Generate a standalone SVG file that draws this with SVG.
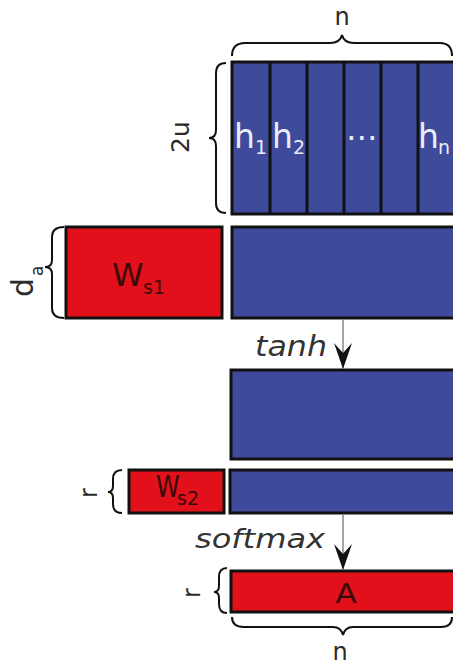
<svg xmlns="http://www.w3.org/2000/svg" width="453" height="669" viewBox="0 0 453 669">
<style>
.blue{fill:#3e4a9a;stroke:#111;stroke-width:3}
.red{fill:#e2101a;stroke:#111;stroke-width:3}
.col{stroke:#111;stroke-width:3}
.brace{fill:none;stroke:#111;stroke-width:2}
.t{font-family:"DejaVu Sans","Liberation Sans",sans-serif;fill:#2a2a2a}
.w{fill:#ececf8}
.dk{fill:#3a0a0a}
.it{font-style:italic;fill:#333}
.conn{stroke:#888;stroke-width:1.5;fill:none}
</style>
<defs>
<marker id="stealth" markerUnits="userSpaceOnUse" markerWidth="26" markerHeight="18" refX="26" refY="9" orient="auto" viewBox="0 0 26 18">
<path d="M26,9 L0,0 L10,9 L0,18 Z" fill="#111"/>
</marker>
</defs>
<rect width="453" height="669" fill="#fff"/>

<g id="H">
<rect class="blue" x="232" y="62" width="240" height="152"/>
<line class="col" x1="270" y1="62" x2="270" y2="214"/>
<line class="col" x1="307" y1="62" x2="307" y2="214"/>
<line class="col" x1="344" y1="62" x2="344" y2="214"/>
<line class="col" x1="381" y1="62" x2="381" y2="214"/>
<line class="col" x1="418" y1="62" x2="418" y2="214"/>
<text class="t w" x="234" y="148" font-size="33">h</text>
<text class="t w" x="255" y="154" font-size="19">1</text>
<text class="t w" x="272" y="148" font-size="33">h</text>
<text class="t w" x="293" y="154" font-size="19">2</text>
<text class="t w" x="362" y="148" font-size="32" text-anchor="middle">⋯</text>
<text class="t w" x="418" y="148" font-size="33">h</text>
<text class="t w" x="438" y="154" font-size="19">n</text>
</g>

<g id="brace-n-top">
<path class="brace" d="M232,56 Q232,43 245,43 L330,43 Q340,43 342,35 Q344,43 354,43 L440,43 Q452,43 452,56"/>
<text class="t" x="342" y="25" font-size="24" text-anchor="middle">n</text>
</g>

<g id="brace-2u">
<path class="brace" d="M226,63 Q216,63 216,73 L216,130 Q216,138 209,138 Q216,138 216,146 L216,203 Q216,213 226,213"/>
<text class="t" transform="translate(189,153) rotate(-90)" font-size="25">2u</text>
</g>

<g id="Ws1">
<rect class="red" x="66" y="227" width="156" height="91"/>
<text class="t dk" x="112" y="286" font-size="32">W</text>
<text class="t dk" x="143" y="294" font-size="19">s1</text>
</g>

<g id="brace-da">
<path class="brace" d="M64,227 Q52,227 52,237 L52,260 Q52,267 45,267 Q52,267 52,274 L52,308 Q52,318 64,318"/>
<text class="t" transform="translate(33,297) rotate(-90)" font-size="30">d</text>
<text class="t" transform="translate(43,276) rotate(-90)" font-size="17">a</text>
</g>

<g id="M1">
<rect class="blue" x="232" y="227" width="240" height="91"/>
</g>

<g id="M2">
<rect class="blue" x="231" y="370" width="240" height="89"/>
</g>

<g id="Ws2">
<rect class="red" x="129" y="470" width="95" height="43"/>
<text class="t dk" transform="translate(156,497) scale(0.8,1)" font-size="30">W</text>
<text class="t dk" x="177" y="505" font-size="19">s2</text>
</g>

<g id="brace-r1">
<path class="brace" d="M122,470 Q113,470 113,479 L113,486 Q113,492 108,492 Q113,492 113,498 L113,504 Q113,513 122,513"/>
<text class="t" transform="translate(97,498) rotate(-90)" font-size="24">r</text>
</g>

<g id="M3">
<rect class="blue" x="230" y="470" width="240" height="43"/>
</g>

<g id="A">
<rect class="red" x="231" y="571" width="240" height="41"/>
<text class="t dk" transform="translate(346,603) scale(1.15,1)" font-size="27" text-anchor="middle">A</text>
</g>

<g id="brace-r2">
<path class="brace" d="M227,568 Q219,568 219,577 L219,586 Q219,592 214,592 Q219,592 219,598 L219,604 Q219,613 227,613"/>
<text class="t" transform="translate(200,598) rotate(-90)" font-size="24">r</text>
</g>

<g id="brace-n-bottom">
<path class="brace" d="M232,617 Q232,627 244,627 L333,627 Q341,627 343,635 Q345,627 353,627 L441,627 Q452,627 452,617"/>
<text class="t" x="340" y="660" font-size="24" text-anchor="middle">n</text>
</g>

<g id="connectors">
<line class="conn" x1="343" y1="319" x2="343" y2="369" marker-end="url(#stealth)"/>
<text class="t it" x="255" y="356" font-size="29" textLength="72" lengthAdjust="spacingAndGlyphs">tanh</text>
<line class="conn" x1="343" y1="514" x2="343" y2="570" marker-end="url(#stealth)"/>
<text class="t it" x="195" y="548" font-size="27" textLength="130" lengthAdjust="spacingAndGlyphs">softmax</text>
</g>
</svg>
